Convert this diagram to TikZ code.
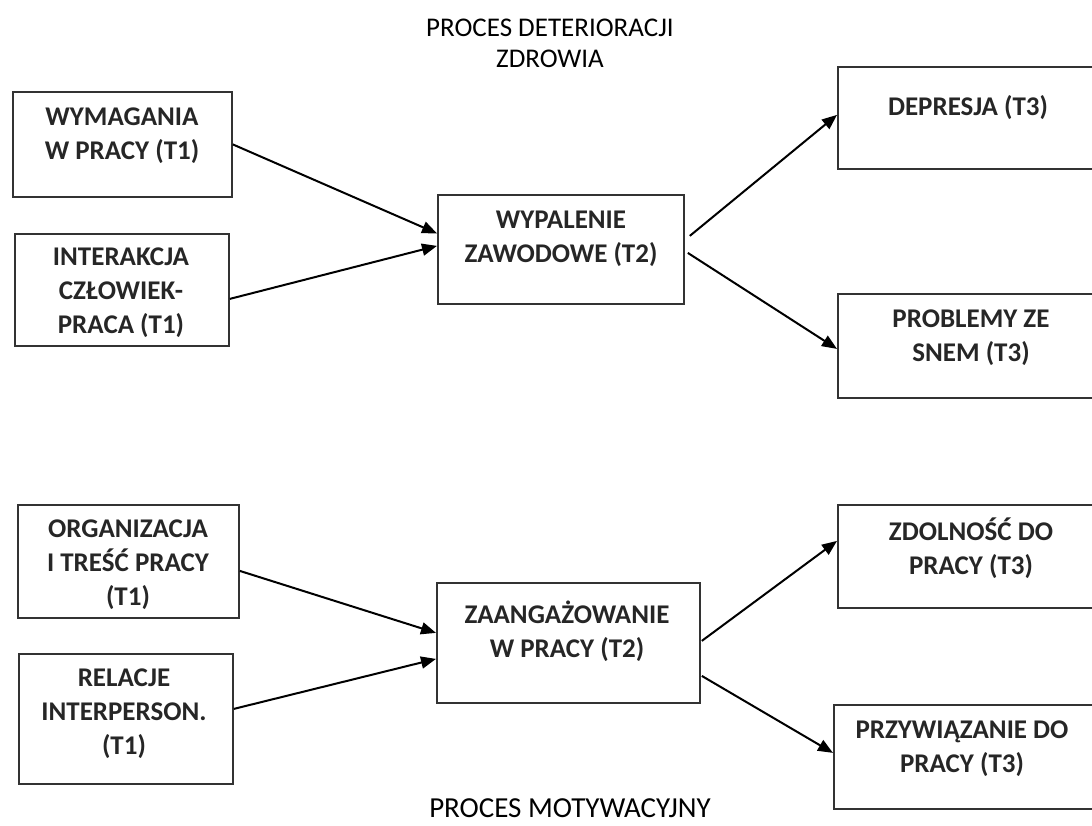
\documentclass[tikz,border=0pt]{standalone}
\usepackage{fontspec}
\setmainfont{Carlito}
\usetikzlibrary{arrows.meta}
\begin{document}
\begin{tikzpicture}[x=1pt,y=-1pt,
  frame/.style={draw=black!80, line width=1.8pt, rectangle, inner sep=0pt, anchor=north west},
  boxtext/.style={font=\bfseries\fontsize{27}{34}\selectfont, align=center, inner sep=0pt, text=black!85},
  title/.style={font=\fontsize{27}{31}\selectfont, align=center, inner sep=0pt},
  link/.style={line width=2pt, -{Triangle[length=15pt,width=12pt]}}]
\useasboundingbox (0,0) rectangle (1092,826);
\clip (0,0) rectangle (1092,826);

% titles
\node[title] (t1) at (550,43) {PROCES DETERIORACJI\\ZDROWIA};
\node[title, font=\fontsize{29}{31}\selectfont, anchor=base] (t2) at (570,817) {PROCES MOTYWACYJNY};

% upper row: health deterioration process
\node[frame, minimum width=219pt, minimum height=105pt] (wym) at (12,91) {};
\node[boxtext] (wymT) at (122,136) {WYMAGANIA\\W PRACY (T1)};
\node[frame, minimum width=214pt, minimum height=112pt] (int) at (14,233) {};
\node[boxtext] (intT) at (121,293) {INTERAKCJA\\CZŁOWIEK-\\PRACA (T1)};
\node[frame, minimum width=246pt, minimum height=109pt] (wyp) at (437,194) {};
\node[boxtext] (wypT) at (561,239) {WYPALENIE\\ZAWODOWE (T2)};
\node[frame, minimum width=262pt, minimum height=102pt] (dep) at (837,66) {};
\node[boxtext] (depT) at (968,108) {DEPRESJA (T3)};
\node[frame, minimum width=262pt, minimum height=104pt] (prob) at (837,293) {};
\node[boxtext] (probT) at (971,338) {PROBLEMY ZE\\SNEM (T3)};

% lower row: motivational process
\node[frame, minimum width=221pt, minimum height=113pt] (org) at (17,504) {};
\node[boxtext] (orgT) at (128,565) {ORGANIZACJA\\I TREŚĆ PRACY\\(T1)};
\node[frame, minimum width=214pt, minimum height=130pt] (rel) at (18,653) {};
\node[boxtext] (relT) at (124,714) {RELACJE\\INTERPERSON.\\(T1)};
\node[frame, minimum width=263pt, minimum height=120pt] (zaa) at (436,582) {};
\node[boxtext] (zaaT) at (567,631) {ZAANGAŻOWANIE\\W PRACY (T2)};
\node[frame, minimum width=262pt, minimum height=103pt] (zdo) at (837,504) {};
\node[boxtext] (zdoT) at (971,548) {ZDOLNOŚĆ DO\\PRACY (T3)};
\node[frame, minimum width=262pt, minimum height=104pt] (prz) at (833,704) {};
\node[boxtext] (przT) at (962,749) {PRZYWIĄZANIE DO\\PRACY (T3)};

% connectors
\draw[link] (wym.east) -- ([yshift=16pt]wyp.west);
\draw[link] ([yshift=-9pt]int.east) -- ([yshift=3.5pt]wyp.west);
\draw[link] ([xshift=5pt,yshift=13.5pt]wyp.east) -- ([yshift=3pt]dep.west);
\draw[link] ([xshift=3pt,yshift=-3.5pt]wyp.east) -- ([yshift=-3pt]prob.west);
\draw[link] ([yshift=-9.5pt]org.east) -- ([yshift=10pt]zaa.west);
\draw[link] ([yshift=10pt]rel.east) -- ([yshift=-16pt]zaa.west);
\draw[link] ([xshift=1pt,yshift=2pt]zaa.east) -- ([yshift=15.5pt]zdo.west);
\draw[link] ([xshift=1pt,yshift=-33pt]zaa.east) -- ([yshift=4pt]prz.west);
\end{tikzpicture}
\end{document}
